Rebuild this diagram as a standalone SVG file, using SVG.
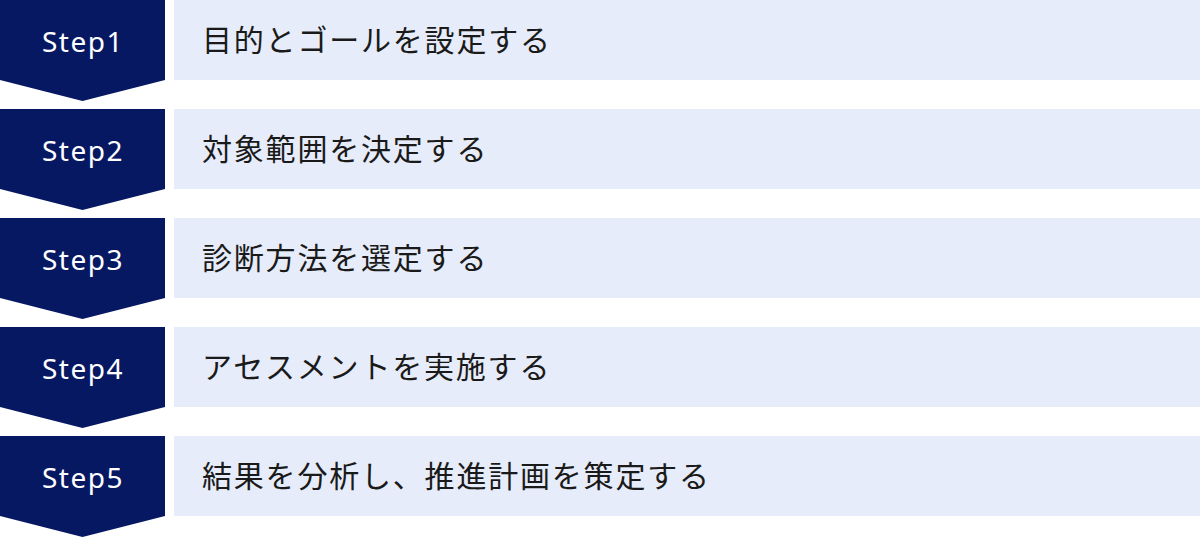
<svg xmlns="http://www.w3.org/2000/svg" width="1200" height="538" viewBox="0 0 1200 538">
<style>
.chev{fill:#061862}
.bar{fill:#e6ecf9}
.st{font-family:"Noto Sans","DejaVu Sans",sans-serif;font-size:28px;fill:#ffffff;letter-spacing:1.5px;text-anchor:middle}
.lb{font-family:"Noto Sans CJK JP","Noto Sans",sans-serif;font-size:30px;fill:#1a1a1a;letter-spacing:1.8px}
</style>
<rect width="1200" height="538" fill="#ffffff"/>
<g id="step1">
<polygon class="chev" points="0,0 165,0 165,80 82.5,101 0,80"/>
<text class="st" x="83" y="52">Step1</text>
<rect class="bar" x="174" y="0" width="1026" height="80"/>
<text class="lb" x="202" y="51">目的とゴールを設定する</text>
</g>
<g id="step2">
<polygon class="chev" points="0,109 165,109 165,189 82.5,210 0,189"/>
<text class="st" x="83" y="161">Step2</text>
<rect class="bar" x="174" y="109" width="1026" height="80"/>
<text class="lb" x="202" y="160">対象範囲を決定する</text>
</g>
<g id="step3">
<polygon class="chev" points="0,218 165,218 165,298 82.5,319 0,298"/>
<text class="st" x="83" y="270">Step3</text>
<rect class="bar" x="174" y="218" width="1026" height="80"/>
<text class="lb" x="202" y="269">診断方法を選定する</text>
</g>
<g id="step4">
<polygon class="chev" points="0,327 165,327 165,407 82.5,428 0,407"/>
<text class="st" x="83" y="379">Step4</text>
<rect class="bar" x="174" y="327" width="1026" height="80"/>
<text class="lb" x="202" y="378">アセスメントを実施する</text>
</g>
<g id="step5">
<polygon class="chev" points="0,436 165,436 165,516 82.5,537 0,516"/>
<text class="st" x="83" y="488">Step5</text>
<rect class="bar" x="174" y="436" width="1026" height="80"/>
<text class="lb" x="202" y="487">結果を分析し、推進計画を策定する</text>
</g>
<g id="connectors"></g>
</svg>
